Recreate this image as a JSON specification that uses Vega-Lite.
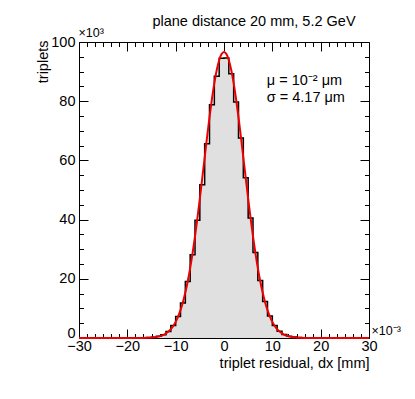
{
  "$schema": "https://vega.github.io/schema/vega-lite/v6.json",
  "width": 290,
  "height": 296,
  "autosize": {"type": "none"},
  "padding": {"left": 79, "top": 42, "right": 46, "bottom": 61},
  "title": {"text": "plane distance 20 mm, 5.2 GeV", "anchor": "middle", "dx": 30, "dy": 19, "offset": 16, "fontSize": 14.5, "fontWeight": "normal", "font": "Liberation Sans", "color": "#000000"},
  "datasets": {
    "hist": [
      {"dx": -30, "triplets": 4}, {"dx": -29, "triplets": 5}, {"dx": -28, "triplets": 6}, {"dx": -27, "triplets": 8},
      {"dx": -26, "triplets": 10}, {"dx": -25, "triplets": 12}, {"dx": -24, "triplets": 15}, {"dx": -23, "triplets": 20},
      {"dx": -22, "triplets": 25}, {"dx": -21, "triplets": 30}, {"dx": -20, "triplets": 40}, {"dx": -19, "triplets": 50},
      {"dx": -18, "triplets": 70}, {"dx": -17, "triplets": 90}, {"dx": -16, "triplets": 140}, {"dx": -15, "triplets": 250},
      {"dx": -14, "triplets": 550}, {"dx": -13, "triplets": 1100}, {"dx": -12, "triplets": 2200}, {"dx": -11, "triplets": 4200},
      {"dx": -10, "triplets": 7300}, {"dx": -9, "triplets": 11800}, {"dx": -8, "triplets": 19100}, {"dx": -7, "triplets": 28100},
      {"dx": -6, "triplets": 39800}, {"dx": -5, "triplets": 51800}, {"dx": -4, "triplets": 65600}, {"dx": -3, "triplets": 78800},
      {"dx": -2, "triplets": 88400}, {"dx": -1, "triplets": 94500}, {"dx": 0, "triplets": 94600}, {"dx": 1, "triplets": 89300},
      {"dx": 2, "triplets": 79700}, {"dx": 3, "triplets": 67600}, {"dx": 4, "triplets": 54100}, {"dx": 5, "triplets": 40500},
      {"dx": 6, "triplets": 28900}, {"dx": 7, "triplets": 19400}, {"dx": 8, "triplets": 12300}, {"dx": 9, "triplets": 7400},
      {"dx": 10, "triplets": 4200}, {"dx": 11, "triplets": 2300}, {"dx": 12, "triplets": 1150}, {"dx": 13, "triplets": 600},
      {"dx": 14, "triplets": 300}, {"dx": 15, "triplets": 180}, {"dx": 16, "triplets": 120}, {"dx": 17, "triplets": 80},
      {"dx": 18, "triplets": 60}, {"dx": 19, "triplets": 40}, {"dx": 20, "triplets": 30}, {"dx": 21, "triplets": 25},
      {"dx": 22, "triplets": 20}, {"dx": 23, "triplets": 15}, {"dx": 24, "triplets": 10}, {"dx": 25, "triplets": 10},
      {"dx": 26, "triplets": 8}, {"dx": 27, "triplets": 5}, {"dx": 28, "triplets": 5}, {"dx": 29, "triplets": 4},
      {"dx": 30, "triplets": 4}
    ],
    "fit": [
      {"dx": -30, "fit": 0}, {"dx": -25, "fit": 0}, {"dx": -20, "fit": 1}, {"dx": -18, "fit": 9}, {"dx": -17, "fit": 24},
      {"dx": -16, "fit": 61}, {"dx": -15, "fit": 150}, {"dx": -14.5, "fit": 229}, {"dx": -14, "fit": 345}, {"dx": -13.5, "fit": 512},
      {"dx": -13, "fit": 750}, {"dx": -12.5, "fit": 1081}, {"dx": -12, "fit": 1538}, {"dx": -11.5, "fit": 2156}, {"dx": -11, "fit": 2979},
      {"dx": -10.5, "fit": 4058}, {"dx": -10, "fit": 5447}, {"dx": -9.5, "fit": 7211}, {"dx": -9, "fit": 9409}, {"dx": -8.5, "fit": 12101},
      {"dx": -8, "fit": 15341}, {"dx": -7.5, "fit": 19167}, {"dx": -7, "fit": 23610}, {"dx": -6.5, "fit": 28669}, {"dx": -6, "fit": 34313},
      {"dx": -5.5, "fit": 40482}, {"dx": -5, "fit": 47078}, {"dx": -4.5, "fit": 53967}, {"dx": -4, "fit": 60981}, {"dx": -3.5, "fit": 67924},
      {"dx": -3, "fit": 74576}, {"dx": -2.5, "fit": 80711}, {"dx": -2, "fit": 86105}, {"dx": -1.5, "fit": 90549}, {"dx": -1, "fit": 93862},
      {"dx": -0.5, "fit": 95908}, {"dx": 0, "fit": 96600}, {"dx": 0.5, "fit": 95908}, {"dx": 1, "fit": 93862}, {"dx": 1.5, "fit": 90549},
      {"dx": 2, "fit": 86105}, {"dx": 2.5, "fit": 80711}, {"dx": 3, "fit": 74576}, {"dx": 3.5, "fit": 67924}, {"dx": 4, "fit": 60981},
      {"dx": 4.5, "fit": 53967}, {"dx": 5, "fit": 47078}, {"dx": 5.5, "fit": 40482}, {"dx": 6, "fit": 34313}, {"dx": 6.5, "fit": 28669},
      {"dx": 7, "fit": 23610}, {"dx": 7.5, "fit": 19167}, {"dx": 8, "fit": 15341}, {"dx": 8.5, "fit": 12101}, {"dx": 9, "fit": 9409},
      {"dx": 9.5, "fit": 7211}, {"dx": 10, "fit": 5447}, {"dx": 10.5, "fit": 4058}, {"dx": 11, "fit": 2979}, {"dx": 11.5, "fit": 2156},
      {"dx": 12, "fit": 1538}, {"dx": 12.5, "fit": 1081}, {"dx": 13, "fit": 750}, {"dx": 13.5, "fit": 512}, {"dx": 14, "fit": 345},
      {"dx": 14.5, "fit": 229}, {"dx": 15, "fit": 150}, {"dx": 16, "fit": 61}, {"dx": 17, "fit": 24}, {"dx": 18, "fit": 9},
      {"dx": 20, "fit": 1}, {"dx": 25, "fit": 0}, {"dx": 30, "fit": 0}
    ]
  },
  "layer": [
    {
      "data": {"name": "hist"},
      "mark": {"type": "area", "interpolate": "step-after", "fill": "#e0e0e0"},
      "encoding": {
        "x": {"field": "dx", "type": "quantitative", "scale": {"domain": [-30, 30], "nice": false, "zero": false},
          "axis": {"orient": "bottom", "values": [-30, -20, -10, 0, 10, 20, 30], "tickSize": -9, "labelPadding": 10,
            "title": "triplet residual, dx [mm]", "titleX": 290, "titleY": 25, "titleAlign": "right", "titleBaseline": "middle", "titleAngle": 0}},
        "y": {"field": "triplets", "type": "quantitative", "scale": {"domain": [0, 100000], "nice": false, "zero": true},
          "axis": {"orient": "left", "values": [0, 20000, 40000, 60000, 80000, 100000], "labelExpr": "format(datum.value/1000, 'd')", "tickSize": -9, "labelPadding": 13,
            "labelOffset": {"condition": {"test": "datum.value === 0", "value": -5}, "value": 0},
            "title": "triplets", "titleX": -36, "titleY": -2, "titleAlign": "right", "titleBaseline": "middle", "titleAngle": -90}}
      }
    },
    {
      "data": {"name": "hist"},
      "mark": {"type": "line", "interpolate": "step-after", "stroke": "#000000", "strokeWidth": 1.5},
      "encoding": {
        "x": {"field": "dx", "type": "quantitative",
          "axis": {"orient": "top", "values": [-30, -20, -10, 0, 10, 20, 30], "tickSize": -9, "labels": false,
            "title": "×10³", "titleX": -1, "titleY": -10, "titleAlign": "left", "titleBaseline": "middle", "titleAngle": 0, "titleFontSize": 12.5}},
        "y": {"field": "triplets", "type": "quantitative",
          "axis": {"orient": "right", "values": [0, 20000, 40000, 60000, 80000, 100000], "tickSize": -9, "labels": false,
            "title": "×10⁻³", "titleX": 2, "titleY": 288, "titleAlign": "left", "titleBaseline": "middle", "titleAngle": 0, "titleFontSize": 12.5}}
      }
    },
    {
      "data": {"name": "fit"},
      "mark": {"type": "line", "interpolate": "monotone", "stroke": "#ee0000", "strokeWidth": 2},
      "encoding": {
        "x": {"field": "dx", "type": "quantitative",
          "axis": {"orient": "bottom", "values": [-28.333, -26.667, -25, -23.333, -21.667, -18.333, -16.667, -15, -13.333, -11.667, -8.333, -6.667, -5, -3.333, -1.667, 1.667, 3.333, 5, 6.667, 8.333, 11.667, 13.333, 15, 16.667, 18.333, 21.667, 23.333, 25, 26.667, 28.333], "tickSize": -4.5, "labels": false, "title": null}},
        "y": {"field": "fit", "type": "quantitative",
          "axis": {"orient": "left", "values": [5000, 10000, 15000, 25000, 30000, 35000, 45000, 50000, 55000, 65000, 70000, 75000, 85000, 90000, 95000], "tickSize": -4.5, "labels": false, "title": null}}
      }
    },
    {
      "data": {"values": [{"note": "fit result"}]},
      "mark": {"type": "text", "text": ["μ = 10⁻² μm", "σ = 4.17 μm"], "align": "left", "baseline": "top", "fontSize": 14.5, "lineHeight": 17, "font": "Liberation Sans", "color": "#000000"},
      "encoding": {
        "x": {"datum": 8.85, "type": "quantitative",
          "axis": {"orient": "top", "values": [-28.333, -26.667, -25, -23.333, -21.667, -18.333, -16.667, -15, -13.333, -11.667, -8.333, -6.667, -5, -3.333, -1.667, 1.667, 3.333, 5, 6.667, 8.333, 11.667, 13.333, 15, 16.667, 18.333, 21.667, 23.333, 25, 26.667, 28.333], "tickSize": -4.5, "labels": false, "title": null}},
        "y": {"datum": 89100, "type": "quantitative",
          "axis": {"orient": "right", "values": [5000, 10000, 15000, 25000, 30000, 35000, 45000, 50000, 55000, 65000, 70000, 75000, 85000, 90000, 95000], "tickSize": -4.5, "labels": false, "title": null}}
      }
    }
  ],
  "resolve": {"axis": {"x": "independent", "y": "independent"}},
  "config": {
    "background": "#ffffff",
    "view": {"stroke": "#000000", "strokeWidth": 1},
    "axis": {
      "domain": false, "grid": false, "tickColor": "#000000", "tickWidth": 1,
      "labelFont": "Liberation Sans", "labelFontSize": 14.5, "labelColor": "#000000",
      "labelFlush": false, "labelOverlap": false, "labelBound": false,
      "titleFont": "Liberation Sans", "titleFontSize": 14.5, "titleFontWeight": "normal", "titleColor": "#000000"
    }
  }
}
